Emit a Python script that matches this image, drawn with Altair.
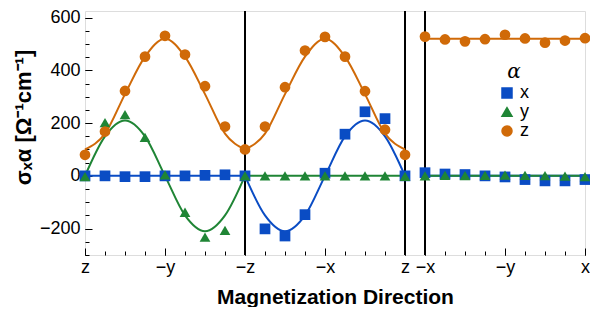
import altair as alt
import pandas as pd

# ---- measured points (x-position index, value) ----
comps = ["x", "y", "z"]
colors = ["#0a4cc4", "#1f8535", "#d06a08"]
shapes = ["square", "triangle-up", "circle"]

pos_all = list(range(0, 26))
# panel 1: z -> -y -> -z (0..8), panel 2: -z -> -x -> z (8..16), panel 3: -x -> -y -> x (17..25)
pts_x = [0, 0, -3, -3, 0, 0, 2, 4, 0,
         -201, -228, -147, 10, 158, 243, 217, 0,
         12, 7, 5, 0, -4, -14, -19, -19, -14]
pts_y = [-3, 202, 232, 146, 4, -138, -232, -207, 0,
         0, 0, 0, 0, 0, 0, 0, -2,
         0, 2, 1, 2, 3, 2, 1, -1, -3]
pts_z = [80, 168, 322, 452, 531, 460, 340, 187, 100,
         187, 336, 475, 527, 452, 321, 175, 80,
         528, 517, 510, 518, 535, 521, 505, 513, 522]

# ---- fitted curves, read at each index, per panel ----
fit_pos1 = [0, 1, 2, 3, 4, 5, 6, 7, 8]
fit_pos2 = [8, 9, 10, 11, 12, 13, 14, 15, 16]
fit_pos3 = [17, 18, 19, 20, 21, 22, 23, 24, 25]
fit1_x = [0, 0, 0, 0, 0, 0, 0, 0, 0]
fit1_y = [0, 150, 210, 150, 0, -150, -210, -150, 0]
fit1_z = [100, 160, 310, 452, 520, 452, 310, 160, 100]
fit2_x = [0, -150, -210, -150, 0, 150, 210, 150, 0]
fit2_y = [0, 0, 0, 0, 0, 0, 0, 0, 0]
fit2_z = [100, 160, 310, 452, 520, 452, 310, 160, 100]
fit3_x = [0, 0, 0, 0, 0, 0, 0, 0, 0]
fit3_y = [0, 0, 0, 0, 0, 0, 0, 0, 0]
fit3_z = [520, 520, 520, 520, 520, 520, 520, 520, 520]

# panel boundaries (vertical rules)
bounds = [8, 16, 17]

# x tick labels (major ticks), minor ticks at every index
tick_pos = [0, 4, 8, 12, 16, 17, 21, 25]
tick_lab = ["z", "\u2212y", "\u2212z", "\u2212x", "z", "\u2212x", "\u2212y", "x"]
minor_x = list(range(0, 26))
major_y = [-200, 0, 200, 400, 600]
minor_y = list(range(-300, 601, 50))

# ---- tables ----
rows = []
for c, vals in zip(comps, [pts_x, pts_y, pts_z]):
    for p, v in zip(pos_all, vals):
        rows.append({"pos": p, "comp": c, "val": v})
pts_df = pd.DataFrame(rows)

frows = []
for panel, (pp, fx, fy, fz) in enumerate([(fit_pos1, fit1_x, fit1_y, fit1_z),
                                          (fit_pos2, fit2_x, fit2_y, fit2_z),
                                          (fit_pos3, fit3_x, fit3_y, fit3_z)]):
    for c, vals in zip(comps, [fx, fy, fz]):
        for p, v in zip(pp, vals):
            frows.append({"pos": p, "comp": c, "val": v, "seg": f"{panel}-{c}"})
fit_df = pd.DataFrame(frows)
bnd_df = pd.DataFrame({"pos": bounds})

label_expr = ""
for p, l in zip(tick_pos, tick_lab):
    label_expr += f"datum.value == {p} ? '{l}' : "
label_expr += "''"

FONT = "Liberation Sans"

xscale = alt.Scale(domain=[0, 25], nice=False, zero=False)
yscale = alt.Scale(domain=[-300, 625], nice=False, zero=False)

xaxis = alt.Axis(values=minor_x, labelExpr=label_expr, tickSize=4, offset=-4,
                 domain=False, grid=False, labelFont=FONT, labelFontSize=18, labelPadding=3,
                 labelFlush=False, labelOverlap=False, labelBound=False, orient="bottom",
                 tickColor="black", tickWidth=1, labelColor="black",
                 title="Magnetization Direction", titleFont=FONT, titleFontSize=21,
                 titleFontWeight="bold", titleColor="black", titleBaseline="alphabetic",
                 titleY=52)
yaxis = alt.Axis(values=minor_y,
                 labelExpr="indexof(" + str(major_y) + ", datum.value) >= 0 ? datum.label : ''",
                 tickSize=4, offset=-4, domain=False, grid=False, labelFont=FONT,
                 labelFontSize=18, labelPadding=5, labelOverlap=False, labelFlush=False,
                 tickColor="black", tickWidth=1, labelColor="black", orient="left",
                 title="\u03c3\u2093\u03b1 [\u03a9\u207b\u00b9cm\u207b\u00b9]",
                 titleFont=FONT, titleFontSize=22, titleFontWeight="bold", titleColor="black",
                 titleBaseline="alphabetic", titleX=-59, titleY=106)
xaxis_major = alt.Axis(values=tick_pos, tickSize=7, offset=-7, domain=False, grid=False,
                       labels=False, title=None, orient="bottom", tickColor="black", tickWidth=1)
yaxis_major = alt.Axis(values=major_y, tickSize=7, offset=-7, domain=False, grid=False,
                       labels=False, title=None, orient="left", tickColor="black", tickWidth=1)

legend = alt.Legend(title="\u03b1", orient="none", legendX=413, legendY=51,
                    titleFont="DejaVu Serif", titleFontStyle="italic", titleFontWeight="normal",
                    titleFontSize=20, titleAnchor="middle", titleColor="black", titlePadding=2,
                    labelFont=FONT, labelFontSize=18, labelColor="black",
                    symbolSize=100, rowPadding=1, padding=0)

color = alt.Color("comp:N", scale=alt.Scale(domain=comps, range=colors), legend=legend)
shape = alt.Shape("comp:N", scale=alt.Scale(domain=comps, range=shapes), legend=legend)

rules = alt.Chart(bnd_df).mark_rule(color="black", strokeWidth=2).encode(
    x=alt.X("pos:Q", scale=xscale, axis=None))

lines = alt.Chart(fit_df).mark_line(strokeWidth=2, interpolate="monotone").encode(
    x=alt.X("pos:Q", scale=xscale, axis=xaxis),
    y=alt.Y("val:Q", scale=yscale, axis=yaxis),
    color=color,
    detail="seg:N",
)

points = alt.Chart(pts_df).mark_point(filled=True, opacity=1, size=115).encode(
    x=alt.X("pos:Q", scale=xscale, axis=None),
    y=alt.Y("val:Q", scale=yscale, axis=None),
    color=color,
    shape=shape,
)

major = alt.Chart(pts_df).mark_point(opacity=0).encode(
    x=alt.X("pos:Q", scale=xscale, axis=xaxis_major),
    y=alt.Y("val:Q", scale=yscale, axis=yaxis_major),
)

chart = alt.layer(rules, lines, points, major).resolve_axis(
    x="independent", y="independent"
).properties(
    width=500, height=244,
    autosize=alt.AutoSizeParams(type="none"),
    padding={"left": 77, "top": 3, "right": 5, "bottom": 52},
).configure_view(stroke="black", strokeWidth=2).configure(background="white")

chart.save("out.html", embed_options={"renderer": "svg", "actions": False})
